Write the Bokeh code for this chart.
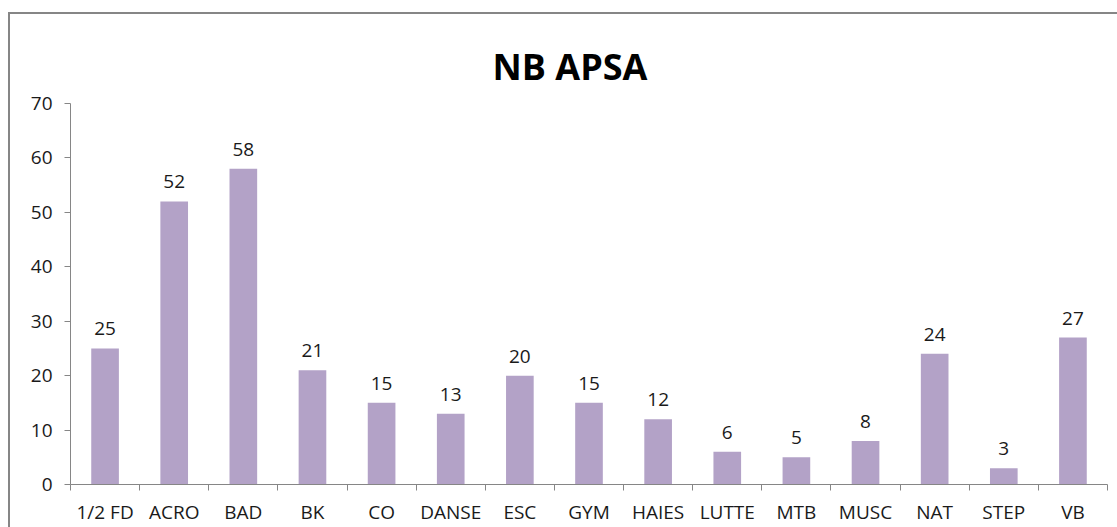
from bokeh.plotting import figure
from bokeh.models import ColumnDataSource, FixedTicker, LabelSet, Range1d, Title
from bokeh.core.properties import value
from bokeh.embed import file_html
from bokeh.resources import INLINE

categories = ["1/2 FD", "ACRO", "BAD", "BK", "CO", "DANSE", "ESC", "GYM",
              "HAIES", "LUTTE", "MTB", "MUSC", "NAT", "STEP", "VB"]
values = [25, 52, 58, 21, 15, 13, 20, 15, 12, 6, 5, 8, 24, 3, 27]
y_ticks = [0, 10, 20, 30, 40, 50, 60, 70]

FONT = "Open Sans"
GRAY = "#868686"
BAR = "#B3A2C7"
TXT = "#1a1a1a"

n = len(categories)
xs = [i + 0.5 for i in range(n)]
source = ColumnDataSource(dict(x=xs, top=values, label=[str(v) for v in values]))

p = figure(width=1109, height=515, output_backend="svg", toolbar_location=None,
           x_range=Range1d(0, n), y_range=Range1d(0, 70),
           min_border_left=62, min_border_right=10, min_border_top=91, min_border_bottom=43)
p.margin = (12, 0, 0, 8)
p.styles = {"box-shadow": "inset 2px 2px 0 0 #868686"}
p.border_fill_color = None
p.background_fill_color = "white"
p.outline_line_color = None
p.xgrid.visible = False
p.ygrid.visible = False

p.title = Title(text="NB APSA", align="left", vertical_align="top", text_font=FONT,
                text_font_size="36px", text_font_style="bold", text_color="black",
                offset=422, standoff=22)

p.vbar(x="x", top="top", width=0.4, bottom=0, source=source, fill_color=BAR, line_color=None)

labels = LabelSet(x="x", y="top", text="label", source=source, y_offset=13,
                  text_align="center", text_baseline="bottom", text_font=value(FONT),
                  text_font_size=value("19px"), text_color=TXT)
p.add_layout(labels)

p.yaxis.ticker = FixedTicker(ticks=y_ticks)
p.yaxis.axis_line_color = GRAY
p.yaxis.major_tick_line_color = GRAY
p.yaxis.major_tick_in = 0
p.yaxis.major_tick_out = 6
p.yaxis.minor_tick_line_color = None
p.yaxis.major_label_standoff = 12
p.yaxis.major_label_text_font = FONT
p.yaxis.major_label_text_font_size = "19px"
p.yaxis.major_label_text_color = TXT

p.xaxis.ticker = FixedTicker(ticks=xs, minor_ticks=list(range(n + 1)))
p.xaxis.major_label_overrides = {x: c for x, c in zip(xs, categories)}
p.xaxis.axis_line_color = GRAY
p.xaxis.major_tick_line_color = None
p.xaxis.major_tick_in = 0
p.xaxis.major_tick_out = 0
p.xaxis.minor_tick_line_color = GRAY
p.xaxis.minor_tick_in = 0
p.xaxis.minor_tick_out = 6
p.xaxis.major_label_standoff = 8
p.xaxis.major_label_text_font = FONT
p.xaxis.major_label_text_font_size = "19px"
p.xaxis.major_label_text_color = TXT

open("out.html", "w").write(file_html(p, INLINE))
